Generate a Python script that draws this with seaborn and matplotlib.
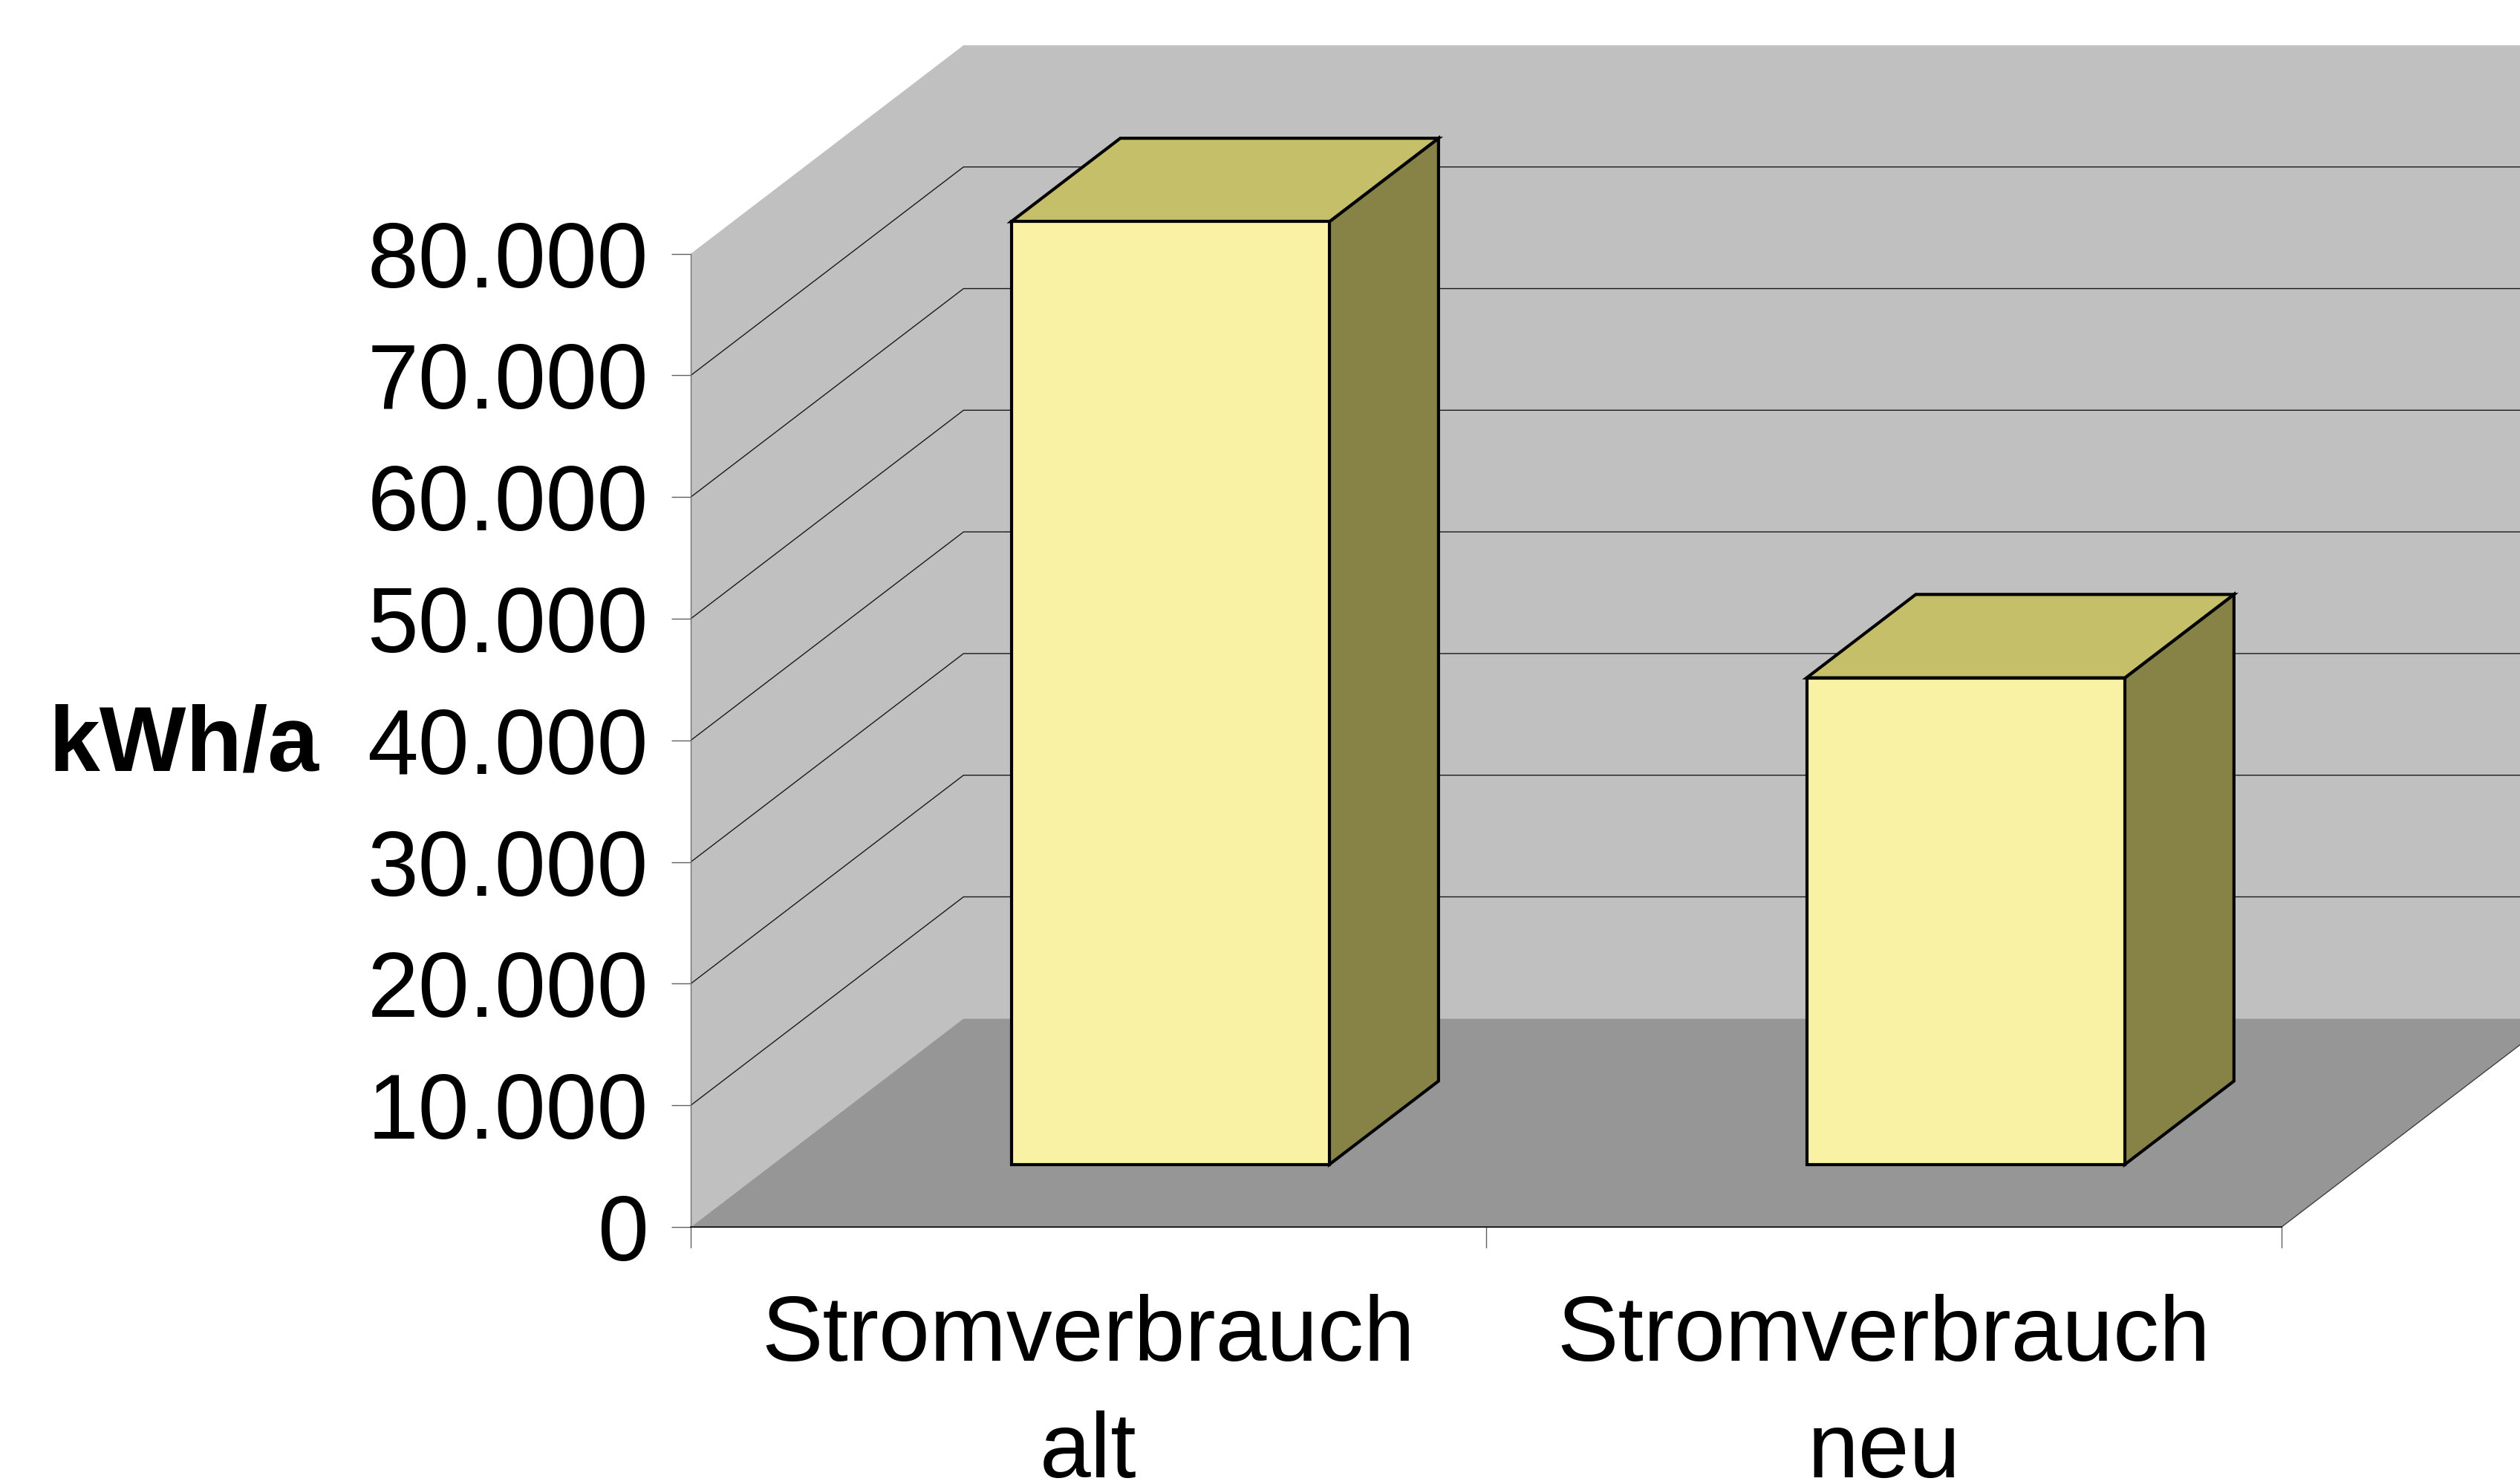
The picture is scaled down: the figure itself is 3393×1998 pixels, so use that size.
import matplotlib
matplotlib.use("Agg")
import matplotlib.pyplot as plt
from matplotlib.patches import Polygon
import pandas as pd
import seaborn as sns

# ---------------- data ----------------
categories = ["Stromverbrauch\nalt", "Stromverbrauch\nneu"]
values = [77500, 40000]
y_ticks = [0, 10000, 20000, 30000, 40000, 50000, 60000, 70000, 80000]
y_tick_labels = ["0", "10.000", "20.000", "30.000", "40.000",
                 "50.000", "60.000", "70.000", "80.000"]
y_label = "kWh/a"

# ---------------- style ----------------
sns.set_theme(style="ticks")
plt.rcParams["font.family"] = ["Liberation Sans", "DejaVu Sans"]

W, H, DPI = 3393, 1998, 100
FS = 89
WALL, FLOOR = "#c0c0c0", "#969696"
FRONT, TOP, SIDE = "#f9f1a3", "#c5bf6a", "#878246"
GRID = "#1a1a1a"
DX, DY = 0.343, 17140          # depth vector (category units, value units)
B0, BD = 0.3, 0.4              # bar depth start / bar depth fraction
EDGE_LW = 3

fig = plt.figure(figsize=(W / DPI, H / DPI), dpi=DPI)
fig.patch.set_facecolor("white")
ax = fig.add_axes([930 / W, (H - 1652) / H, (3072 - 930) / W, (1652 - 341.7) / H])
ax.set_facecolor("none")

df = pd.DataFrame({"cat": categories, "val": values})
sns.barplot(data=df, x="cat", y="val", width=0.4, color=FRONT, saturation=1,
            edgecolor="black", linewidth=EDGE_LW, ax=ax)
bars = list(ax.patches)

n = len(categories)
x0, x1 = -0.5, n - 0.5
ymax = y_ticks[-1]
ax.set_xlim(x0, x1)
ax.set_ylim(0, ymax)

# walls and floor
left_wall = Polygon([(x0, 0), (x0, ymax), (x0 + DX, ymax + DY), (x0 + DX, DY)],
                    closed=True, fc=WALL, ec="none", clip_on=False, zorder=0.1)
back_wall = Polygon([(x0 + DX, DY), (x0 + DX, ymax + DY), (x1 + DX, ymax + DY), (x1 + DX, DY)],
                    closed=True, fc=WALL, ec="none", clip_on=False, zorder=0.1)
floor = Polygon([(x0, 0), (x1, 0), (x1 + DX, DY), (x0 + DX, DY)],
                closed=True, fc=FLOOR, ec="none", clip_on=False, zorder=0.2)
for p in (left_wall, back_wall, floor):
    ax.add_patch(p)

# gridlines on walls
for v in y_ticks[1:-1]:
    ax.plot([x0, x0 + DX, x1 + DX], [v, v + DY, v + DY], color=GRID, lw=1.0,
            clip_on=False, zorder=0.3, solid_capstyle="butt")
# right floor edge
ax.plot([x1, x1 + DX], [0, DY], color="#404040", lw=1.0, clip_on=False, zorder=0.3)

# 3D bars derived from seaborn's bar geometry
for p in bars:
    x, w, h = p.get_x(), p.get_width(), p.get_height()
    ox, oy = B0 * DX, B0 * DY
    p.set_x(x + ox)
    p.set_y(oy)
    p.set_clip_on(False)
    p.set_zorder(3)
    p.set_joinstyle("miter")
    ddx, ddy = BD * DX, BD * DY
    xl, xr, yb, yt = x + ox, x + ox + w, oy, oy + h
    side = Polygon([(xr, yb), (xr + ddx, yb + ddy), (xr + ddx, yt + ddy), (xr, yt)],
                   closed=True, fc=SIDE, ec="black", lw=EDGE_LW, joinstyle="miter",
                   clip_on=False, zorder=2)
    top = Polygon([(xl, yt), (xr, yt), (xr + ddx, yt + ddy), (xl + ddx, yt + ddy)],
                  closed=True, fc=TOP, ec="black", lw=EDGE_LW, joinstyle="miter",
                  clip_on=False, zorder=2)
    ax.add_patch(side)
    ax.add_patch(top)

# spines
ax.spines["top"].set_visible(False)
ax.spines["right"].set_visible(False)
ax.spines["left"].set_color("#707070")
ax.spines["left"].set_linewidth(1.0)
ax.spines["bottom"].set_color("black")
ax.spines["bottom"].set_linewidth(1.2)
ax.spines["left"].set_zorder(4)
ax.spines["bottom"].set_zorder(4)

# y axis
ax.set_yticks(y_ticks)
ax.set_yticklabels(y_tick_labels)
ax.tick_params(axis="y", which="major", left=True, direction="out", length=19, width=1,
               color="#606060", pad=22, labelsize=FS, labelcolor="black")

# x axis: boundary ticks + centered category labels
ax.set_xticks([x0 + i for i in range(n + 1)])
ax.set_xticklabels([""] * (n + 1))
ax.set_xticks(list(range(n)), minor=True)
ax.set_xticklabels(categories, minor=True)
ax.tick_params(axis="x", which="major", bottom=True, direction="out", length=20, width=1,
               color="#606060")
ax.tick_params(axis="x", which="minor", bottom=True, length=0, pad=65, labelsize=FS,
               labelcolor="black")
for lbl in ax.get_xticklabels(minor=True):
    lbl.set_linespacing(1.45)
    lbl.set_multialignment("center")

ax.set_xlabel("")
ax.set_ylabel(y_label, rotation=0, fontsize=FS, fontweight="bold", color="black",
              ha="center", va="baseline")
ax.yaxis.set_label_coords((247 - 930) / 2142, (1652 - 1038) / 1310.3)

fig.savefig("out.png", dpi=DPI)
